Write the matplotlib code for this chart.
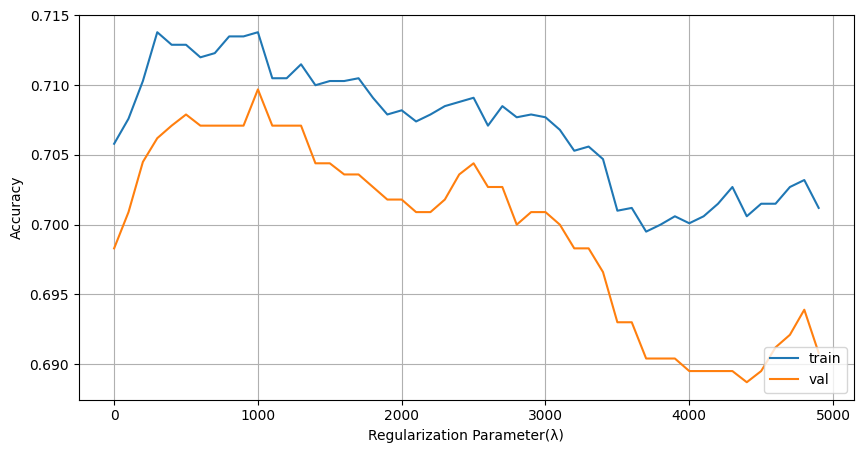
import matplotlib
matplotlib.use("Agg")
import matplotlib.pyplot as plt
import numpy as np

lambdas = list(range(0, 5000, 100))

train_acc = [
    0.7058, 0.7076, 0.7103, 0.7138, 0.7129, 0.7129, 0.7120, 0.7123, 0.7135, 0.7135,
    0.7138, 0.7105, 0.7105, 0.7115, 0.7100, 0.7103, 0.7103, 0.7105, 0.7091, 0.7079,
    0.7082, 0.7074, 0.7079, 0.7085, 0.7088, 0.7091, 0.7071, 0.7085, 0.7077, 0.7079,
    0.7077, 0.7068, 0.7053, 0.7056, 0.7047, 0.7010, 0.7012, 0.6995, 0.7000, 0.7006,
    0.7001, 0.7006, 0.7015, 0.7027, 0.7006, 0.7015, 0.7015, 0.7027, 0.7032, 0.7012,
]

val_acc = [
    0.6983, 0.7009, 0.7045, 0.7062, 0.7071, 0.7079, 0.7071, 0.7071, 0.7071, 0.7071,
    0.7097, 0.7071, 0.7071, 0.7071, 0.7044, 0.7044, 0.7036, 0.7036, 0.7027, 0.7018,
    0.7018, 0.7009, 0.7009, 0.7018, 0.7036, 0.7044, 0.7027, 0.7027, 0.7000, 0.7009,
    0.7009, 0.7000, 0.6983, 0.6983, 0.6966, 0.6930, 0.6930, 0.6904, 0.6904, 0.6904,
    0.6895, 0.6895, 0.6895, 0.6895, 0.6887, 0.6895, 0.6912, 0.6921, 0.6939, 0.6908,
]

fig, ax = plt.subplots(figsize=(10, 5), dpi=100)
ax.plot(lambdas, train_acc, label="train")
ax.plot(lambdas, val_acc, label="val")
ax.set_xlabel("Regularization Parameter(λ)")
ax.set_ylabel("Accuracy")
ax.grid(True)
ax.legend(loc="lower right")
fig.savefig("out.png", dpi=100, bbox_inches="tight")
